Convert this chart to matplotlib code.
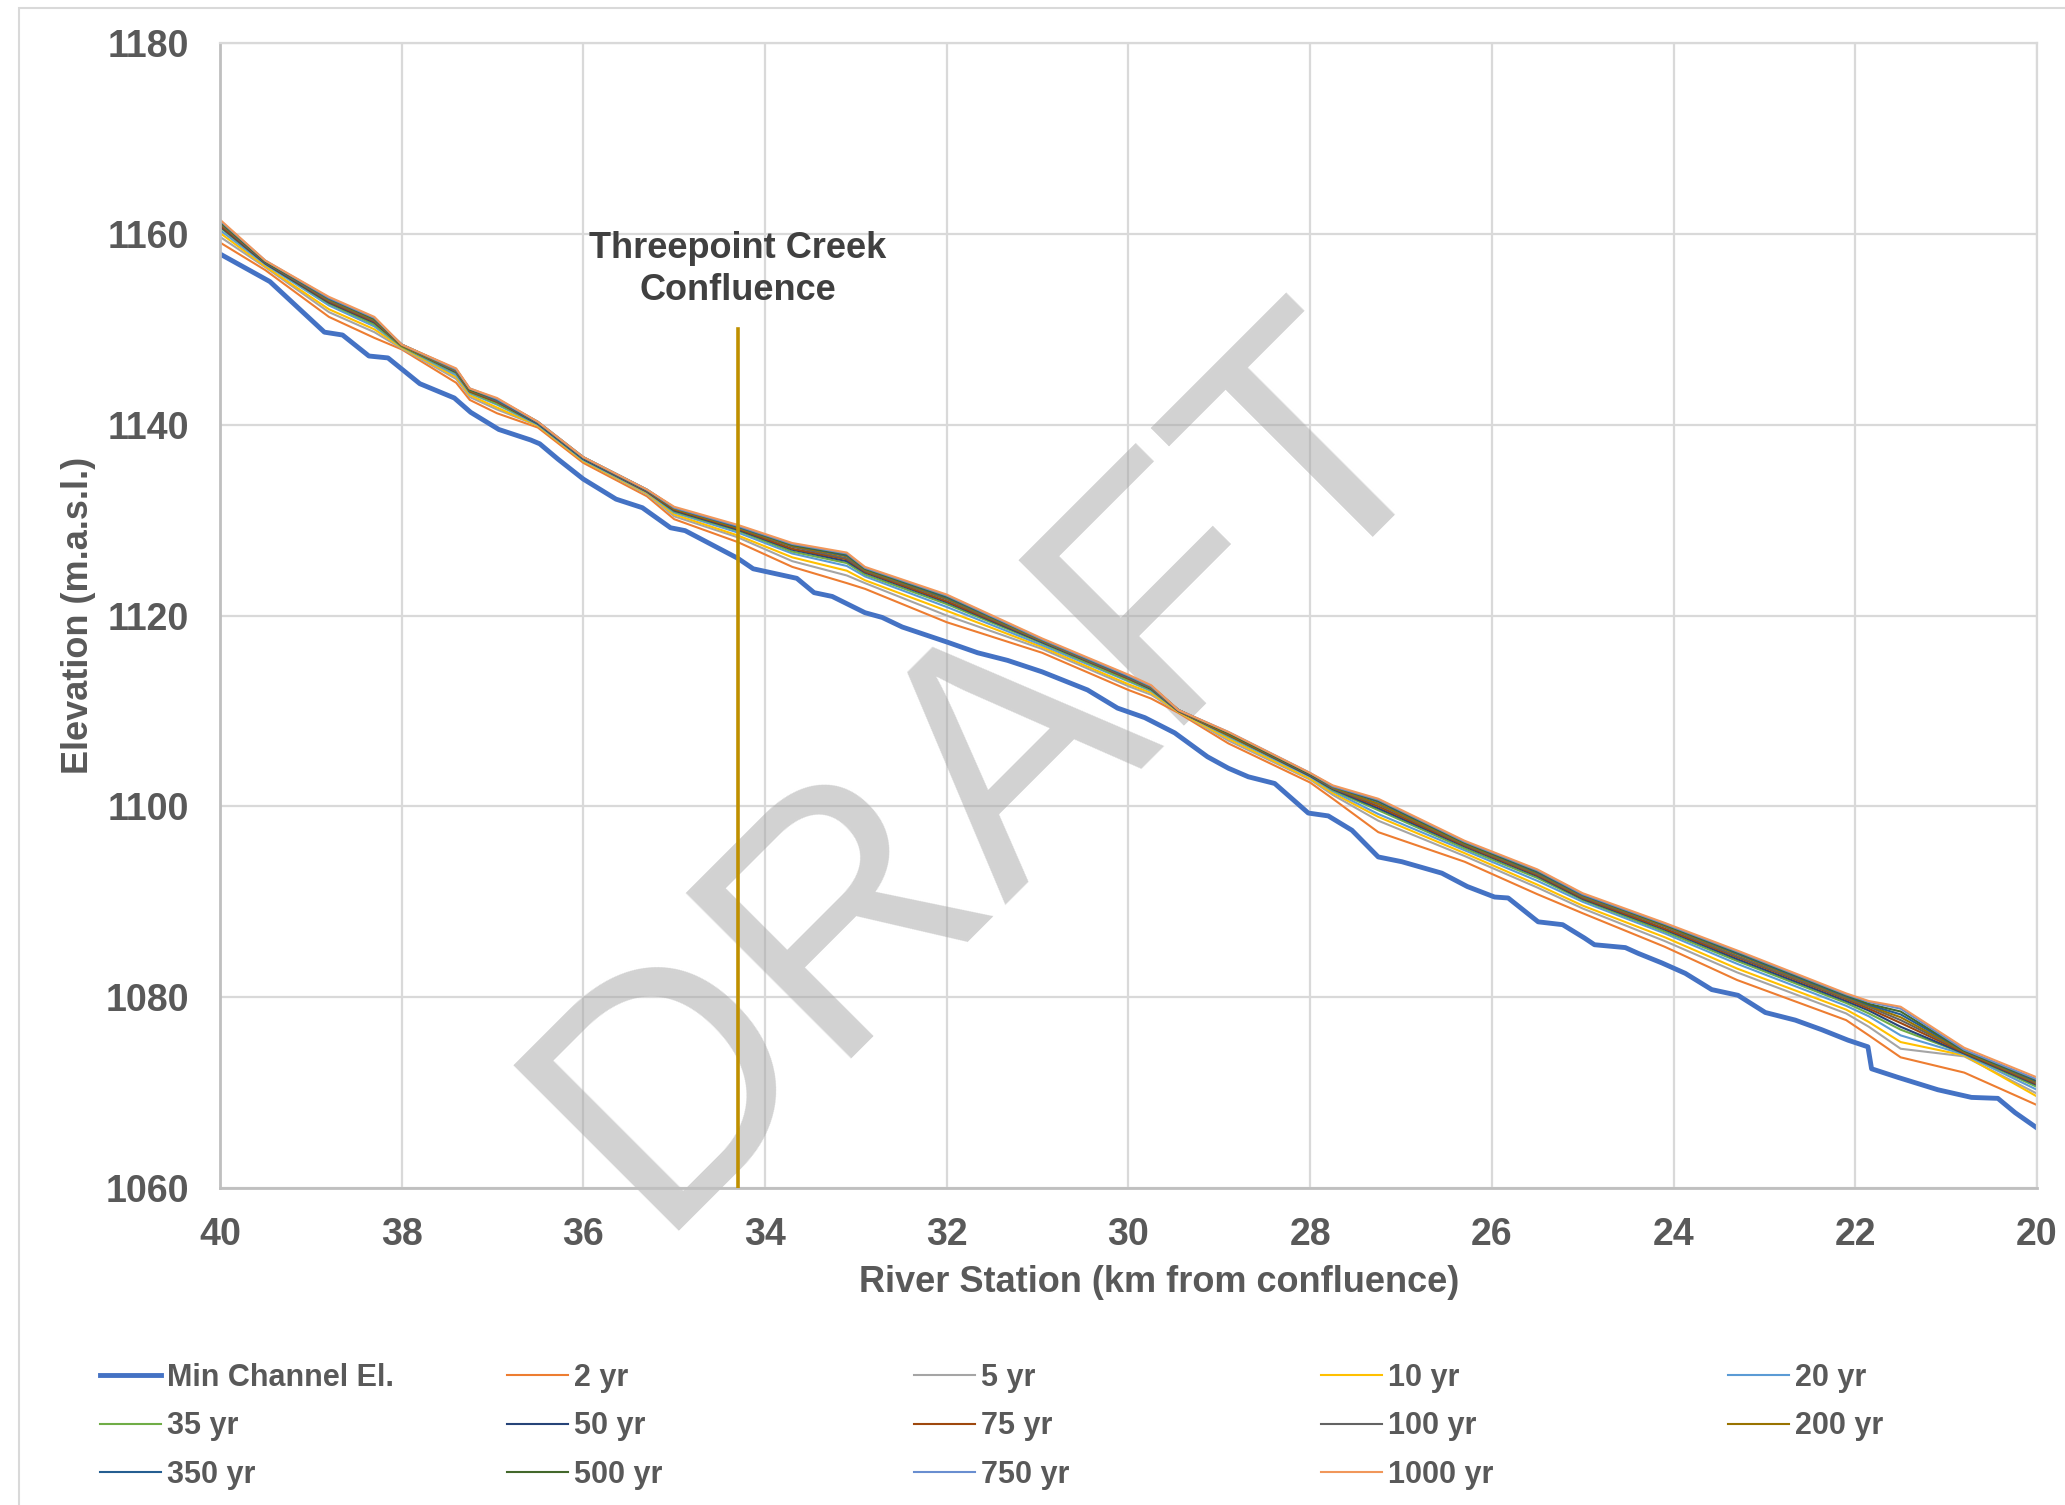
import numpy as np
import matplotlib.pyplot as plt
from matplotlib.patches import Rectangle

plt.rcParams['font.family'] = ['Liberation Sans', 'DejaVu Sans']

# minimum channel elevation (km from confluence, m.a.s.l.)
min_km = [40.0, 39.45, 38.85, 38.65, 38.36, 38.15, 37.8, 37.42, 37.24, 36.93,
          36.58, 36.48, 36.28, 36.0, 35.64, 35.35, 35.04, 34.88, 34.3, 34.13,
          33.65, 33.46, 33.26, 32.9, 32.71, 32.49, 31.99, 31.66, 31.33, 30.95,
          30.45, 30.12, 29.82, 29.49, 29.13, 28.9, 28.68, 28.39, 28.02, 27.8,
          27.54, 27.25, 26.99, 26.55, 26.27, 25.97, 25.82, 25.49, 25.22, 24.98,
          24.87, 24.53, 24.39, 24.13, 23.87, 23.58, 23.29, 22.99, 22.66, 22.37,
          22.08, 21.86, 21.82, 21.53, 21.09, 20.72, 20.43, 20.24, 20.0]
min_el = [1157.9, 1155.0, 1149.7, 1149.4, 1147.2, 1147.0, 1144.3, 1142.8, 1141.3, 1139.5,
          1138.4, 1138.0, 1136.4, 1134.3, 1132.2, 1131.3, 1129.2, 1128.9, 1126.0, 1124.9,
          1123.9, 1122.4, 1122.0, 1120.3, 1119.8, 1118.8, 1117.2, 1116.1, 1115.3, 1114.1,
          1112.2, 1110.3, 1109.3, 1107.7, 1105.2, 1104.0, 1103.1, 1102.4, 1099.3, 1099.0,
          1097.5, 1094.7, 1094.2, 1093.0, 1091.6, 1090.5, 1090.4, 1087.9, 1087.6, 1086.2,
          1085.5, 1085.2, 1084.6, 1083.6, 1082.5, 1080.8, 1080.2, 1078.4, 1077.6, 1076.6,
          1075.5, 1074.8, 1072.5, 1071.6, 1070.3, 1069.5, 1069.4, 1067.9, 1066.3]

# water surface profiles
wse_km = [40.0, 39.5, 38.8, 38.3, 38.0, 37.4, 37.25, 36.95, 36.5, 36.0,
          35.3, 35.0, 34.3, 33.7, 33.1, 32.9, 32.0, 30.95, 30.0, 29.75,
          29.45, 28.9, 28.0, 27.75, 27.25, 26.3, 25.5, 25.0, 24.1, 23.3,
          22.1, 21.85, 21.5, 20.8, 20.0]

wse_2 = [1159.1, 1156.2, 1151.3, 1149.1, 1147.9, 1144.4, 1142.6, 1141.2, 1139.7, 1136.0,
         1132.5, 1130.1, 1127.7, 1125.1, 1123.4, 1122.8, 1119.3, 1116.1, 1112.2, 1111.3,
         1109.8, 1106.6, 1102.5, 1100.8, 1097.3, 1094.2, 1090.8, 1088.8, 1085.3, 1081.8,
         1077.6, 1076.0, 1073.7, 1072.1, 1068.7]
wse_5 = [1159.7, 1156.5, 1151.8, 1149.7, 1148.0, 1144.8, 1142.9, 1141.6, 1139.9, 1136.2,
         1132.7, 1130.4, 1128.2, 1125.7, 1124.2, 1123.4, 1120.0, 1116.5, 1112.6, 1111.7,
         1109.9, 1106.9, 1102.8, 1101.2, 1098.5, 1094.8, 1091.5, 1089.3, 1085.9, 1082.6,
         1078.3, 1076.9, 1074.6, 1073.8, 1069.9]
wse_10 = [1160.1, 1156.6, 1152.1, 1150.0, 1148.1, 1145.0, 1143.1, 1141.8, 1139.9, 1136.2,
          1132.8, 1130.6, 1128.4, 1126.1, 1124.7, 1123.7, 1120.5, 1116.7, 1112.8, 1111.9,
          1109.9, 1107.1, 1102.9, 1101.4, 1098.9, 1095.1, 1091.8, 1089.6, 1086.3, 1083.0,
          1078.7, 1077.4, 1075.3, 1073.9, 1069.6]
wse_20 = [1160.4, 1156.8, 1152.5, 1150.3, 1148.2, 1145.2, 1143.3, 1142.1, 1140.0, 1136.3,
          1132.9, 1130.8, 1128.7, 1126.5, 1125.2, 1124.1, 1120.9, 1116.9, 1113.1, 1112.1,
          1110.0, 1107.3, 1103.1, 1101.6, 1099.2, 1095.4, 1092.2, 1090.0, 1086.7, 1083.5,
          1079.1, 1078.0, 1076.0, 1074.0, 1070.3]
wse_35 = [1160.7, 1156.9, 1152.7, 1150.5, 1148.2, 1145.4, 1143.4, 1142.2, 1140.1, 1136.4,
          1133.0, 1130.9, 1128.9, 1126.7, 1125.5, 1124.3, 1121.2, 1117.1, 1113.2, 1112.2,
          1110.0, 1107.4, 1103.2, 1101.7, 1099.6, 1095.6, 1092.5, 1090.2, 1086.9, 1083.8,
          1079.4, 1078.3, 1076.6, 1074.1, 1070.6]
wse_50 = [1160.8, 1156.9, 1152.8, 1150.7, 1148.3, 1145.5, 1143.5, 1142.4, 1140.1, 1136.4,
          1133.0, 1131.0, 1129.0, 1126.9, 1125.7, 1124.5, 1121.4, 1117.2, 1113.4, 1112.3,
          1110.0, 1107.5, 1103.2, 1101.8, 1099.8, 1095.8, 1092.7, 1090.3, 1087.1, 1084.0,
          1079.6, 1078.6, 1076.9, 1074.1, 1070.8]
wse_75 = [1160.9, 1157.0, 1152.9, 1150.8, 1148.3, 1145.6, 1143.5, 1142.4, 1140.2, 1136.5,
          1133.0, 1131.1, 1129.1, 1127.0, 1125.9, 1124.6, 1121.5, 1117.3, 1113.4, 1112.4,
          1110.0, 1107.5, 1103.3, 1101.9, 1100.0, 1095.9, 1092.8, 1090.4, 1087.2, 1084.2,
          1079.8, 1078.8, 1077.3, 1074.2, 1070.9]
wse_100 = [1161.1, 1157.0, 1153.0, 1150.9, 1148.3, 1145.6, 1143.6, 1142.5, 1140.2, 1136.5,
           1133.1, 1131.2, 1129.2, 1127.2, 1126.0, 1124.7, 1121.7, 1117.3, 1113.5, 1112.4,
           1110.0, 1107.6, 1103.3, 1101.9, 1100.2, 1096.0, 1092.9, 1090.5, 1087.4, 1084.3,
           1079.9, 1079.0, 1077.6, 1074.3, 1071.0]
wse_200 = [1161.2, 1157.1, 1153.1, 1151.0, 1148.3, 1145.7, 1143.6, 1142.6, 1140.2, 1136.5,
           1133.1, 1131.2, 1129.2, 1127.3, 1126.2, 1124.8, 1121.8, 1117.4, 1113.6, 1112.5,
           1110.1, 1107.6, 1103.4, 1102.0, 1100.3, 1096.1, 1093.0, 1090.6, 1087.5, 1084.5,
           1080.0, 1079.1, 1077.9, 1074.3, 1071.1]
wse_350 = [1161.3, 1157.1, 1153.2, 1151.1, 1148.4, 1145.8, 1143.7, 1142.6, 1140.2, 1136.5,
           1133.1, 1131.3, 1129.3, 1127.4, 1126.3, 1124.9, 1121.9, 1117.5, 1113.6, 1112.6,
           1110.1, 1107.7, 1103.4, 1102.1, 1100.5, 1096.2, 1093.1, 1090.7, 1087.6, 1084.6,
           1080.1, 1079.2, 1078.2, 1074.4, 1071.2]
wse_500 = [1161.3, 1157.1, 1153.3, 1151.1, 1148.4, 1145.8, 1143.7, 1142.7, 1140.3, 1136.6,
           1133.2, 1131.3, 1129.4, 1127.4, 1126.4, 1124.9, 1122.0, 1117.5, 1113.7, 1112.6,
           1110.1, 1107.7, 1103.4, 1102.1, 1100.6, 1096.2, 1093.2, 1090.8, 1087.6, 1084.7,
           1080.2, 1079.3, 1078.5, 1074.4, 1071.3]
wse_750 = [1161.4, 1157.2, 1153.3, 1151.2, 1148.4, 1145.8, 1143.8, 1142.7, 1140.3, 1136.6,
           1133.2, 1131.3, 1129.4, 1127.5, 1126.5, 1125.0, 1122.1, 1117.5, 1113.7, 1112.6,
           1110.1, 1107.8, 1103.5, 1102.1, 1100.7, 1096.3, 1093.3, 1090.8, 1087.7, 1084.8,
           1080.3, 1079.5, 1078.8, 1074.5, 1071.4]
wse_1000 = [1161.5, 1157.2, 1153.4, 1151.3, 1148.4, 1145.9, 1143.8, 1142.8, 1140.3, 1136.6,
            1133.2, 1131.4, 1129.5, 1127.6, 1126.6, 1125.1, 1122.2, 1117.6, 1113.8, 1112.7,
            1110.1, 1107.8, 1103.5, 1102.2, 1100.8, 1096.4, 1093.4, 1090.9, 1087.8, 1084.9,
            1080.4, 1079.6, 1079.0, 1074.7, 1071.6]

wse_labels = ['2 yr', '5 yr', '10 yr', '20 yr', '35 yr', '50 yr', '75 yr',
              '100 yr', '200 yr', '350 yr', '500 yr', '750 yr', '1000 yr']
wse_series = [wse_2, wse_5, wse_10, wse_20, wse_35, wse_50, wse_75,
              wse_100, wse_200, wse_350, wse_500, wse_750, wse_1000]
wse_colors = ['#ED7D31', '#A5A5A5', '#FFC000', '#5B9BD5', '#70AD47', '#264478',
              '#9E480E', '#636363', '#997300', '#255E91', '#43682B', '#698ED0',
              '#F1975A']

confluence_km = 34.3
confluence_top = 1150

txt = '#595959'

fig = plt.figure(figsize=(20.65, 15.05), dpi=100)
ax = fig.add_axes([0.1065, 0.2106, 0.8799, 0.7608])

# chart area border
fig.patches.append(Rectangle((0.0092, -0.02), 1.0, 1.0147, transform=fig.transFigure,
                             fill=False, edgecolor='#D9D9D9', lw=1.5))

handles = []
h, = ax.plot(min_km, min_el, color='#4472C4', lw=3.5, label='Min Channel El.', zorder=2)
handles.append(h)
for vals, lab, c in zip(wse_series, wse_labels, wse_colors):
    h, = ax.plot(wse_km, vals, color=c, lw=1.5, label=lab, zorder=2)
    handles.append(h)

ax.plot([confluence_km, confluence_km], [1060, confluence_top], color='#BF9000', lw=2.6, zorder=3)
ax.text(confluence_km, 1156.3, 'Threepoint Creek\nConfluence', ha='center', va='center',
        fontsize=26, fontweight='bold', color='#404040', linespacing=1.25)

# watermark
ax.text(0.4784, 0.4884, 'DRAFT', transform=fig.transFigure, fontsize=244, color='#A6A6A6',
        alpha=0.5, rotation=45, ha='center', va='center', rotation_mode='anchor',
        zorder=1.5, clip_on=False)

ax.set_xlim(40, 20)
ax.set_ylim(1060, 1180)
ax.set_xticks(np.arange(40, 19, -2))
ax.set_yticks(np.arange(1060, 1181, 20))
ax.set_axisbelow(True)
ax.grid(True, color='#D9D9D9', lw=1.6)
ax.tick_params(length=0, labelsize=27, labelcolor=txt)
ax.tick_params(axis='y', pad=22)
ax.tick_params(axis='x', pad=21)
for lbl in ax.get_xticklabels() + ax.get_yticklabels():
    lbl.set_fontweight('bold')
for s in ['top', 'right']:
    ax.spines[s].set_color('#D9D9D9')
    ax.spines[s].set_linewidth(1.6)
for s in ['left', 'bottom']:
    ax.spines[s].set_color('#BFBFBF')
    ax.spines[s].set_linewidth(2.0)

ax.set_xlabel('River Station (km from confluence)', fontsize=26, fontweight='bold', color=txt)
ax.set_ylabel('Elevation (m.a.s.l.)', fontsize=26, fontweight='bold', color=txt)
ax.xaxis.set_label_coords(0.517, -0.067)
ax.yaxis.set_label_coords(-0.068, 0.5)

# legend: 5 columns, filled row by row
col_x = [100, 507, 914, 1321, 1728]
labels_all = [hh.get_label() for hh in handles]
for c, x in enumerate(col_x):
    idx = [i for i in range(c, len(handles), 5)]
    fig.legend([handles[i] for i in idx], [labels_all[i] for i in idx],
               loc='upper left', bbox_to_anchor=(x / 2065, 1 - 1363 / 1505),
               frameon=False, prop={'size': 22, 'weight': 'bold'}, labelcolor=txt,
               handlelength=2.0, handletextpad=0.2, labelspacing=0.6,
               borderpad=0, borderaxespad=0)

fig.savefig('out.png', dpi=100)
